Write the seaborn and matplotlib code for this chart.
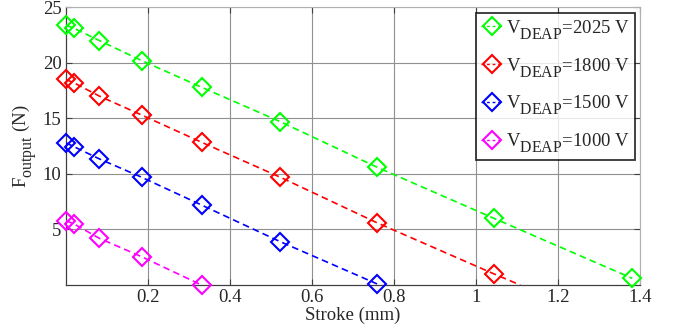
import matplotlib
matplotlib.use("Agg")
import matplotlib.pyplot as plt
import matplotlib._mathtext as _mt
import seaborn as sns
from matplotlib.lines import Line2D

# ---- data ----
labels = ["2025 V", "1800 V", "1500 V", "1000 V"]
colors = ["#00ff00", "#ff0000", "#0000ff", "#ff00ff"]

stroke_2025 = [0.0, 0.02, 0.082, 0.185, 0.331, 0.523, 0.759, 1.044, 1.381]
force_2025 = [23.4, 23.1, 22.0, 20.2, 17.8, 14.7, 10.6, 6.0, 0.6]

stroke_1800 = [0.0, 0.02, 0.082, 0.185, 0.331, 0.523, 0.759, 1.044]
force_1800 = [18.5, 18.2, 17.0, 15.3, 12.85, 9.7, 5.6, 1.0]

stroke_1500 = [0.0, 0.02, 0.082, 0.185, 0.331, 0.523, 0.759]
force_1500 = [12.8, 12.45, 11.35, 9.7, 7.2, 3.9, 0.1]

stroke_1000 = [0.0, 0.02, 0.082, 0.185, 0.331]
force_1000 = [5.8, 5.5, 4.2, 2.55, 0.0]

# dashed fit-line end points beyond the last measurement
line_end_stroke = [1.381, 1.108, 0.759, 0.331]
line_end_force = [0.6, 0.0, 0.1, 0.0]

xticks = [0.2, 0.4, 0.6, 0.8, 1.0, 1.2, 1.4]
xticklabels = ["0.2", "0.4", "0.6", "0.8", "1", "1.2", "1.4"]
yticks = [5, 10, 15, 20, 25]

strokes = [stroke_2025, stroke_1800, stroke_1500, stroke_1000]
forces = [force_2025, force_1800, force_1500, force_1000]

# larger, lower subscripts (MATLAB-like)
_mt.SHRINK_FACTOR = 0.85
_mt.FontConstantsBase.sub1 = 0.75
_mt.FontConstantsBase.sub2 = 0.9

sns.set_style("white")
plt.rcParams["font.family"] = ["Liberation Serif", "DejaVu Serif"]
plt.rcParams["mathtext.fontset"] = "custom"
plt.rcParams["mathtext.rm"] = "Liberation Serif"
plt.rcParams["mathtext.it"] = "Liberation Serif:italic"

fig = plt.figure(figsize=(6.78, 3.28), dpi=100)
ax = fig.add_axes([0.097, 0.131, 0.847, 0.847])

for lab, col, xs, ys, xe, ye in zip(labels, colors, strokes, forces,
                                    line_end_stroke, line_end_force):
    lx = list(xs) + ([xe] if xe > xs[-1] else [])
    ly = list(ys) + ([ye] if xe > xs[-1] else [])
    sns.lineplot(x=lx, y=ly, ax=ax, color=col, linestyle=(0, (4, 2.5)),
                 linewidth=1.2, sort=False, legend=False, zorder=3)
    ax.plot(xs, ys, linestyle="none", marker="D", markersize=9.5,
            markerfacecolor="none", markeredgecolor=col,
            markeredgewidth=1.5, clip_on=False, zorder=4)

ax.set_xlim(0, 1.4)
ax.set_ylim(0, 25)
ax.set_xticks(xticks)
ax.set_xticklabels(xticklabels)
ax.set_yticks(yticks)
ax.grid(True, color="#909090", linewidth=0.8)
ax.tick_params(labelsize=13.5, direction="in", length=4, color="#404040",
               pad=3, top=True, right=True, bottom=True, left=True)
for side in ["top", "right"]:
    ax.spines[side].set_color("#b0b0b0")
    ax.spines[side].set_linewidth(0.8)
for side in ["left", "bottom"]:
    ax.spines[side].set_color("#404040")
    ax.spines[side].set_linewidth(0.9)

ax.set_xlabel("Stroke (mm)", fontsize=13.5, labelpad=0)
ax.set_ylabel(r"F$_{\mathregular{output}}$ (N)", fontsize=13.5, labelpad=2)

handles = [Line2D([], [], color=c, linestyle=(0, (2, 2)), linewidth=1.0,
                  marker="D", markersize=9.5, markerfacecolor="none",
                  markeredgewidth=1.5) for c in colors]
leg_labels = [r"V$_{\mathregular{DEAP}}$=" + l for l in labels]
leg = ax.legend(handles, leg_labels, loc="upper right",
                bbox_to_anchor=(0.991, 0.978), fontsize=13.5, frameon=True,
                fancybox=False, edgecolor="black", handlelength=1.2,
                handletextpad=0.15, borderpad=0.25, labelspacing=0.75,
                borderaxespad=0)
leg.get_frame().set_linewidth(1.3)
leg.set_zorder(10)

fig.savefig("out.png", dpi=100, facecolor="white")
